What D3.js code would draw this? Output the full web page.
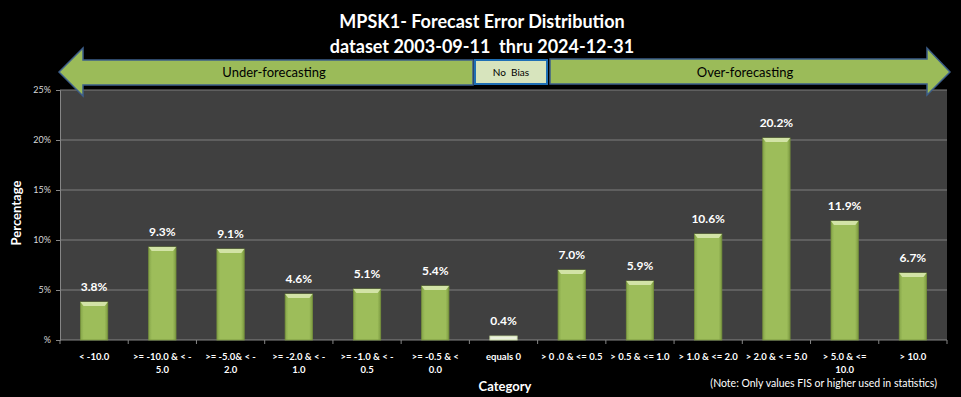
<!DOCTYPE html>
<html lang="en">
<head>
  <meta charset="UTF-8">
  <title>MPSK1- Forecast Error Distribution</title>
  <script src="https://d3js.org/d3.v7.min.js"></script>
  <style>
    body {
      margin: 0;
      padding: 0;
      background: #000;
    }
    svg text {
      font-family: Lato, 'Open Sans', sans-serif;
    }
  </style>
</head>
<body>
  <div id="chart"></div>

  <script>
    // Chart data
    const categories = [
      '< -10.0', '>= -10.0 & < -5.0', '>= -5.0& < -2.0', '>= -2.0 & < -1.0',
      '>= -1.0 & < -0.5', '>= -0.5 & < 0.0', 'equals 0', '> 0 .0 & <= 0.5',
      '> 0.5 & <= 1.0', '> 1.0 & <= 2.0', '> 2.0 & < = 5.0', '> 5.0 & <= 10.0', '> 10.0'
    ];
    // how each category label wraps on the axis
    const tickLines = [
      ['< -10.0'], ['>= -10.0 & < -', '5.0'], ['>= -5.0& < -', '2.0'], ['>= -2.0 & < -', '1.0'],
      ['>= -1.0 & < -', '0.5'], ['>= -0.5 & <', '0.0'], ['equals 0'], ['> 0 .0 & <= 0.5'],
      ['> 0.5 & <= 1.0'], ['> 1.0 & <= 2.0'], ['> 2.0 & < = 5.0'], ['> 5.0 & <=', '10.0'], ['> 10.0']
    ];
    const percentages = [3.8, 9.3, 9.1, 4.6, 5.1, 5.4, 0.4, 7.0, 5.9, 10.6, 20.2, 11.9, 6.7];
    const yTicks = [0, 5, 10, 15, 20, 25];

    const title1 = 'MPSK1- Forecast Error Distribution';
    const title2 = 'dataset 2003-09-11  thru 2024-12-31';
    const note = '(Note: Only values FIS or higher used in statistics)';

    const width = 961;
    const height = 397;
    const margin = { top: 90, right: 14, bottom: 57, left: 60 };

    const svg = d3.select('#chart')
      .append('svg')
      .attr('width', width)
      .attr('height', height)
      .style('display', 'block');

    svg.append('rect')
      .attr('width', width)
      .attr('height', height)
      .attr('fill', '#000');

    const x = d3.scaleBand()
      .domain(categories)
      .range([margin.left, width - margin.right])
      .paddingInner(0.6)
      .paddingOuter(0.3);

    const y = d3.scaleLinear()
      .domain([0, 25])
      .range([height - margin.bottom, margin.top]);

    // gradient for the bevelled bars
    const defs = svg.append('defs');
    const grad = defs.append('linearGradient').attr('id', 'barGrad');
    grad.append('stop').attr('offset', '0%').attr('stop-color', '#86a64a');
    grad.append('stop').attr('offset', '12%').attr('stop-color', '#9dbd5a');
    grad.append('stop').attr('offset', '88%').attr('stop-color', '#9dbd5a');
    grad.append('stop').attr('offset', '100%').attr('stop-color', '#7d9b42');

    // plot area
    svg.append('rect')
      .attr('x', margin.left)
      .attr('y', margin.top)
      .attr('width', width - margin.left - margin.right)
      .attr('height', height - margin.top - margin.bottom)
      .attr('fill', '#404040');

    // gridlines
    svg.append('g')
      .selectAll('line')
      .data(yTicks.filter(d => d > 0))
      .join('line')
      .attr('x1', margin.left)
      .attr('x2', width - margin.right)
      .attr('y1', d => y(d))
      .attr('y2', d => y(d))
      .attr('stroke', '#7f7f7f')
      .attr('stroke-width', 1.2);

    // y axis
    const yAxis = svg.append('g')
      .attr('transform', `translate(${margin.left},0)`)
      .call(d3.axisLeft(y).tickValues(yTicks).tickSize(4).tickFormat(d => d === 0 ? '%' : d + '%'));
    yAxis.select('.domain').attr('stroke', '#868686');
    yAxis.selectAll('.tick line').attr('stroke', '#868686');
    yAxis.selectAll('.tick text')
      .attr('fill', '#d9d9d9')
      .attr('font-size', 9)
      .attr('x', -9);

    // x axis with ticks on band boundaries
    const xAxis = svg.append('g')
      .attr('transform', `translate(0,${height - margin.bottom})`);
    xAxis.append('line')
      .attr('x1', margin.left)
      .attr('x2', width - margin.right)
      .attr('stroke', '#868686');
    xAxis.selectAll('.tk')
      .data(d3.range(categories.length + 1))
      .join('line')
      .attr('class', 'tk')
      .attr('x1', i => margin.left + i * (width - margin.left - margin.right) / categories.length)
      .attr('x2', i => margin.left + i * (width - margin.left - margin.right) / categories.length)
      .attr('y1', 0)
      .attr('y2', 4)
      .attr('stroke', '#868686');

    const xLabels = xAxis.selectAll('.xl')
      .data(categories)
      .join('text')
      .attr('class', 'xl')
      .attr('text-anchor', 'middle')
      .attr('fill', '#fff')
      .attr('font-size', 9.5)
      .attr('font-weight', 'bold')
      .attr('y', 20);
    xLabels.each(function (d, i) {
      d3.select(this).selectAll('tspan')
        .data(tickLines[i])
        .join('tspan')
        .attr('x', x(d) + x.bandwidth() / 2)
        .attr('dy', (t, j) => j === 0 ? 0 : 13)
        .text(t => t);
    });

    // bars
    const bars = svg.append('g')
      .selectAll('g')
      .data(percentages)
      .join('g');

    bars.append('rect')
      .attr('x', (d, i) => x(categories[i]))
      .attr('y', d => y(d))
      .attr('width', x.bandwidth())
      .attr('height', d => y(0) - y(d))
      .attr('fill', (d, i) => categories[i] === 'equals 0' ? '#ebf1de' : 'url(#barGrad)')
      .attr('stroke', (d, i) => categories[i] === 'equals 0' ? '#c3d69b' : '#77933c')
      .attr('stroke-width', 0.8);

    // light top bevel
    bars.filter((d, i) => categories[i] !== 'equals 0')
      .append('path')
      .attr('d', function (d) {
        const i = percentages.indexOf(d);
        const x0 = x(categories[i]);
        const w = x.bandwidth();
        const t = y(d);
        return `M${x0},${t} L${x0 + w},${t} L${x0 + w - 3},${t + 4} L${x0 + 3},${t + 4} Z`;
      })
      .attr('fill', '#d2e3a6');

    // value labels
    svg.append('g')
      .selectAll('text')
      .data(percentages)
      .join('text')
      .attr('x', (d, i) => x(categories[i]) + x.bandwidth() / 2)
      .attr('y', d => y(d) - 11)
      .attr('text-anchor', 'middle')
      .attr('fill', '#fff')
      .attr('font-size', 12)
      .attr('font-weight', 'bold')
      .text(d => d.toFixed(1) + '%');

    // title
    svg.append('text')
      .attr('x', 482)
      .attr('y', 28)
      .attr('text-anchor', 'middle')
      .attr('fill', '#fff')
      .attr('font-size', 18)
      .attr('font-weight', 'bold')
      .text(title1);
    svg.append('text')
      .attr('x', 482)
      .attr('y', 53)
      .attr('text-anchor', 'middle')
      .attr('fill', '#fff')
      .attr('font-size', 18)
      .attr('font-weight', 'bold')
      .style('white-space', 'pre')
      .text(title2);

    // bias arrows
    const arrowStroke = '#3d5f8a';
    svg.append('path')
      .attr('d', 'M59,72 L83,48 L83,60 L473,60 L473,85 L83,85 L83,96 Z')
      .attr('fill', '#9bbb59')
      .attr('stroke', arrowStroke)
      .attr('stroke-width', 1.5);
    svg.append('path')
      .attr('d', 'M550,59 L927,59 L927,48 L950,72 L927,95 L927,84 L550,84 Z')
      .attr('fill', '#9bbb59')
      .attr('stroke', arrowStroke)
      .attr('stroke-width', 1.5);
    svg.append('rect')
      .attr('x', 475)
      .attr('y', 60)
      .attr('width', 72)
      .attr('height', 24)
      .attr('fill', '#d7e4bd')
      .attr('stroke', '#1f6fb5')
      .attr('stroke-width', 2);

    svg.append('text')
      .attr('x', 274)
      .attr('y', 77)
      .attr('text-anchor', 'middle')
      .attr('font-size', 13)
      .attr('fill', '#000')
      .text('Under-forecasting');
    svg.append('text')
      .attr('x', 745)
      .attr('y', 77)
      .attr('text-anchor', 'middle')
      .attr('font-size', 13)
      .attr('fill', '#000')
      .text('Over-forecasting');
    svg.append('text')
      .attr('x', 511)
      .attr('y', 76)
      .attr('text-anchor', 'middle')
      .attr('font-size', 10)
      .attr('fill', '#000')
      .style('white-space', 'pre')
      .text('No  Bias');

    // axis titles
    svg.append('text')
      .attr('transform', 'translate(21,213) rotate(-90)')
      .attr('text-anchor', 'middle')
      .attr('fill', '#fff')
      .attr('font-size', 13)
      .attr('font-weight', 'bold')
      .text('Percentage');
    svg.append('text')
      .attr('x', 505)
      .attr('y', 391)
      .attr('text-anchor', 'middle')
      .attr('fill', '#fff')
      .attr('font-size', 13)
      .attr('font-weight', 'bold')
      .text('Category');
    svg.append('text')
      .attr('x', 937)
      .attr('y', 387)
      .attr('text-anchor', 'end')
      .attr('fill', '#fff')
      .attr('font-size', 10.5)
      .text(note);
  </script>
</body>
</html>
